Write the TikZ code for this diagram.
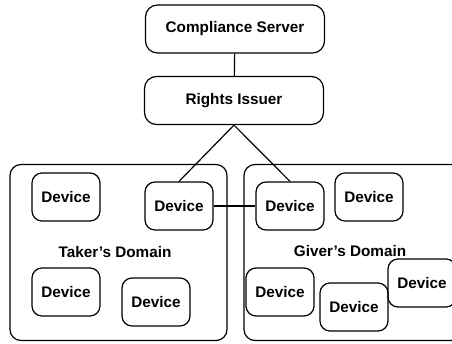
\documentclass[tikz,border=0pt]{standalone}
\usepackage{fontspec}
\setmainfont{Liberation Sans}
\usetikzlibrary{positioning}

\begin{document}
\begin{tikzpicture}[
    x=1pt,y=-1pt,
    every node/.style={font=\fontsize{15.3}{18}\selectfont\bfseries},
    server/.style={draw,line width=1.2pt,rounded corners=12pt,minimum width=179pt,minimum height=48pt},
    domainbox/.style={draw,line width=1.2pt,rounded corners=11pt,minimum height=176pt},
    device/.style={draw,line width=1.2pt,rounded corners=10pt,minimum width=68pt,minimum height=48pt,inner sep=0pt},
    link/.style={line width=1.2pt},
]
\useasboundingbox (0,0) rectangle (452,343);

% Server side
\node[server] (cs) at (235,29)    {Compliance Server};
\node[server] (ri) at (234,100.5) {Rights Issuer};

% The two domains
\node[domainbox,minimum width=217pt] (taker) at (118.5,252.5) {};
\node[domainbox,minimum width=218pt] (giver) at (353,252.5)   {};
\node (takerlbl) at (115,252) {Taker’s Domain};
\node (giverlbl) at (350,251) {Giver’s Domain};

% Devices in the taker's domain
\node[device] (tdevA) at (66,197)  {Device};
\node[device] (tdevB) at (179,206) {Device};
\node[device] (tdevC) at (66,292)  {Device};
\node[device] (tdevD) at (156,302) {Device};

% Devices in the giver's domain
\node[device] (gdevA) at (290,206) {Device};
\node[device] (gdevB) at (369,197) {Device};
\node[device] (gdevC) at (280,292) {Device};
\node[device] (gdevD) at (354,307) {Device};
\node[device] (gdevE) at (422,283) {Device};

% Connections
\draw[link] (cs) -- (ri);
\draw[link] (ri.south) -- (tdevB.north);
\draw[link] (ri.south) -- (gdevA.north);
\draw[link] (tdevB) -- (gdevA);
\end{tikzpicture}
\end{document}
